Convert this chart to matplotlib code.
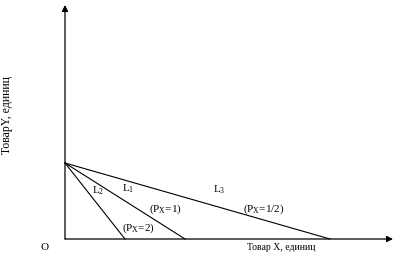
import matplotlib
matplotlib.use('Agg')
import matplotlib.pyplot as plt

plt.rcParams['font.family'] = ['Liberation Serif', 'DejaVu Serif']
plt.rcParams['mathtext.fontset'] = 'custom'
plt.rcParams['mathtext.rm'] = 'Liberation Serif'
plt.rcParams['mathtext.it'] = 'Liberation Serif'

# бюджетные линии: общая точка на оси Y, разные пересечения с осью X
y_intercept = 76
x_intercepts = [120, 60, 265]          # L1, L2, L3
line_names = ['L$_1$', 'L$_2$', 'L$_3$']
price_labels = ['(P$_X$=1)', '(P$_X$=2)', '(P$_X$=1/2)']
name_pos = [(63, 50), (33, 48), (154, 49)]
price_pos = [(100, 30), (73, 11), (199, 30)]

x_max = 328
y_max = 234

fig = plt.figure(figsize=(3.95, 2.59), dpi=100)
ax = fig.add_axes([0, 0, 1, 1])
ax.set_xlim(-65, 330)
ax.set_ylim(-20, 239)
ax.axis('off')

# оси со стрелками
ax.annotate('', xy=(x_max, 0), xytext=(0, 0),
            arrowprops=dict(arrowstyle='-|>', color='black', lw=0.9,
                            mutation_scale=9, shrinkA=0, shrinkB=0))
ax.annotate('', xy=(0, y_max), xytext=(0, 0),
            arrowprops=dict(arrowstyle='-|>', color='black', lw=0.9,
                            mutation_scale=9, shrinkA=0, shrinkB=0))

for xi in x_intercepts:
    ax.plot([0, xi], [y_intercept, 0], color='black', lw=0.8)

for name, (nx, ny) in zip(line_names, name_pos):
    ax.text(nx, ny, name, fontsize=8, ha='center', va='center')
for lab, (px, py) in zip(price_labels, price_pos):
    ax.text(px, py, lab, fontsize=8, ha='center', va='center')

ax.text(-20, -9, 'O', fontsize=8, ha='center', va='center')
ax.text(216, -9, 'Товар X, единиц', fontsize=7, ha='center', va='center')
ax.text(-58, 124, 'ТоварY, единиц', fontsize=8.5, ha='center', va='center',
        rotation=90)

fig.savefig('out.png', dpi=100)
